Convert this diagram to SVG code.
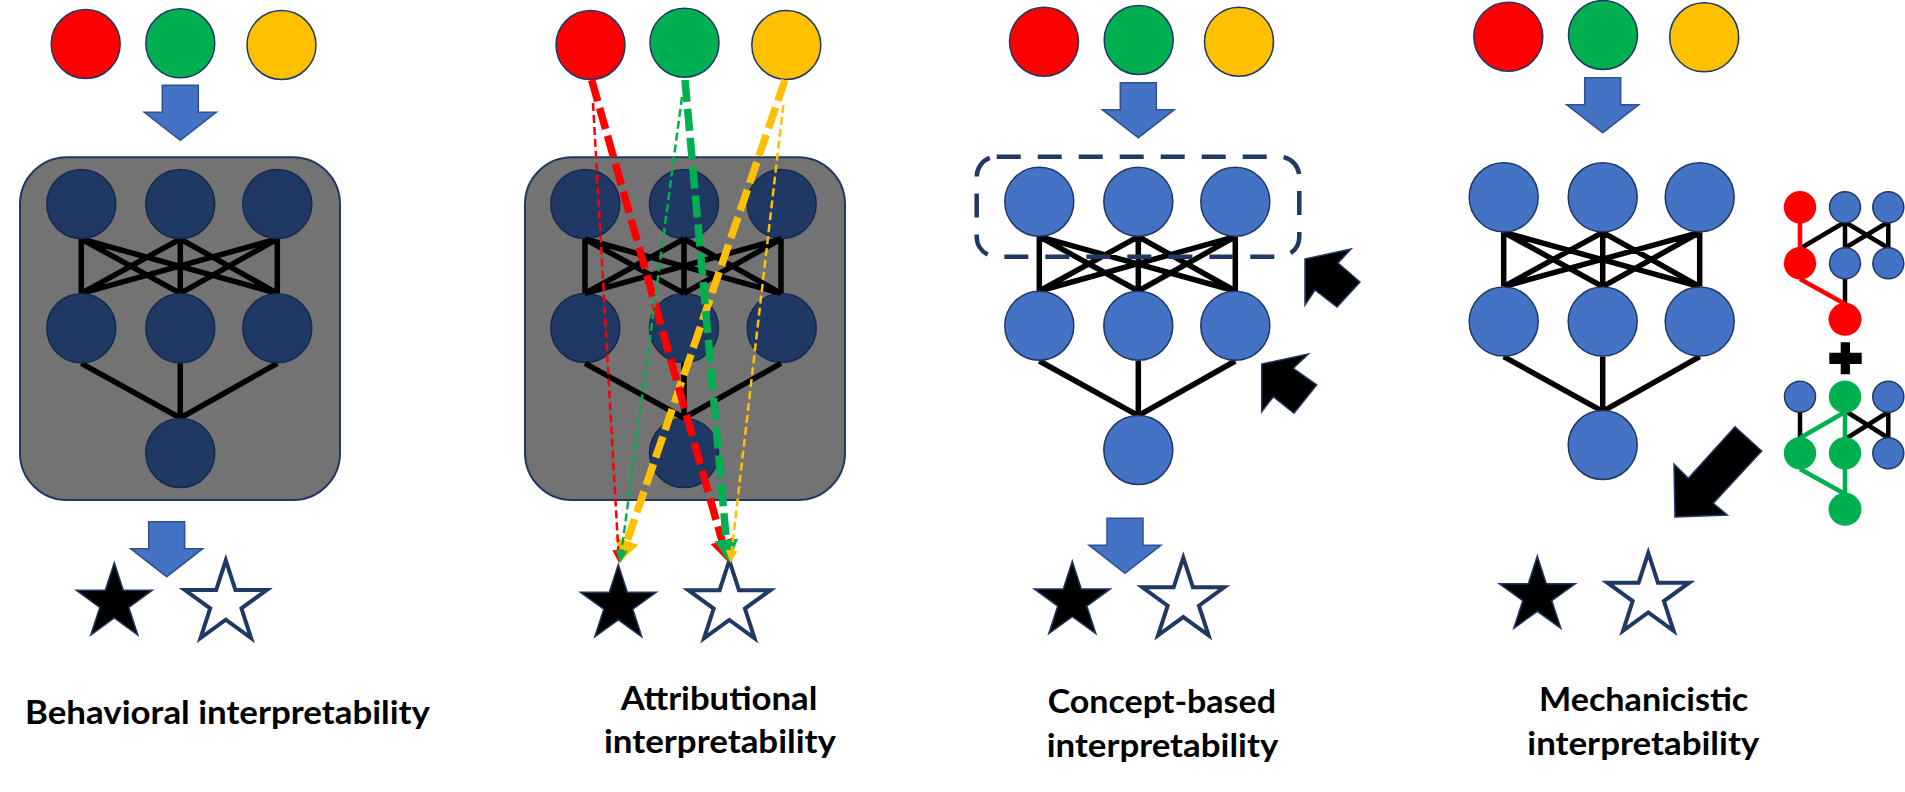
<svg xmlns="http://www.w3.org/2000/svg" xmlns:xlink="http://www.w3.org/1999/xlink" width="1905" height="792" viewBox="0 0 1905 792">
<style>
.in{stroke:#1F3864;stroke-width:1.5}
.red{fill:#FF0000}.grn{fill:#00B050}.yel{fill:#FFC000}
.dk{fill:#1F3864;stroke:#172a4e;stroke-width:1.5}
.lb{fill:#4472C4;stroke:#1F3864;stroke-width:1.5}
.sb{fill:#4472C4;stroke:#1F3864;stroke-width:1.5}
.edge{stroke:#000;stroke-width:5.5;fill:none}
.me{stroke:#000;stroke-width:4.5;fill:none}
.mr{stroke:#FF0000;stroke-width:4.5;fill:none}
.mg{stroke:#00B050;stroke-width:4.5;fill:none}
.box{fill:#737373;stroke:#1F3864;stroke-width:2}
.barrow{fill:#4472C4;stroke:#2F528F;stroke-width:1.5}
.karrow{fill:#000;stroke:#1F3864;stroke-width:1.5;stroke-linejoin:miter}
.bstar{fill:#000;stroke:#1F3864;stroke-width:1.5}
.wstar{fill:#fff;stroke:#1F3864;stroke-width:4}
.thick{fill:none;stroke-width:7.5;stroke-dasharray:22 7}
.thin{fill:none;stroke-width:2.5;stroke-dasharray:8 4}
.lbl{font-family:Lato,'Open Sans','Liberation Sans',sans-serif;font-weight:700;font-size:32.5px;fill:#000}
</style>
<defs>
<path id="downArrow" d="M-18,0H18V27H36L0,55L-36,27H-18Z"/>
<polygon id="starB" points="0,-40 8.98,-12.36 38.04,-12.36 14.53,4.72 23.51,32.36 0,15.28 -23.51,32.36 -14.53,4.72 -38.04,-12.36 -8.98,-12.36"/>
<polygon id="starW" points="0,-43 9.65,-13.29 40.9,-13.29 15.62,5.07 25.28,34.79 0,16.43 -25.28,34.79 -15.62,5.07 -40.9,-13.29 -9.65,-13.29"/>
<path id="netEdges" d="M-99,35L-99,89.3M-99,35L0,89.3M-99,35L97,89.3M0,35L-99,89.3M0,35L0,89.3M0,35L97,89.3M97,35L-99,89.3M97,35L0,89.3M97,35L97,89.3M-99,159.3L0,214M0,159.3L0,214M97,159.3L0,214"/>
<marker id="hRedT" viewBox="0 0 22 24" refX="0" refY="12" markerWidth="22" markerHeight="24" markerUnits="userSpaceOnUse" orient="auto"><path d="M0,0L22,12L0,24Z" fill="#FF0000"/></marker>
<marker id="hGrnT" viewBox="0 0 22 24" refX="0" refY="12" markerWidth="22" markerHeight="24" markerUnits="userSpaceOnUse" orient="auto"><path d="M0,0L22,12L0,24Z" fill="#00B050"/></marker>
<marker id="hYelT" viewBox="0 0 22 24" refX="0" refY="12" markerWidth="22" markerHeight="24" markerUnits="userSpaceOnUse" orient="auto"><path d="M0,0L22,12L0,24Z" fill="#FFC000"/></marker>
<marker id="hRed" viewBox="0 0 13 12" refX="0" refY="6" markerWidth="13" markerHeight="12" markerUnits="userSpaceOnUse" orient="auto"><path d="M0,0L13,6L0,12Z" fill="#FF0000"/></marker>
<marker id="hGrn" viewBox="0 0 13 12" refX="0" refY="6" markerWidth="13" markerHeight="12" markerUnits="userSpaceOnUse" orient="auto"><path d="M0,0L13,6L0,12Z" fill="#00B050"/></marker>
<marker id="hYel" viewBox="0 0 13 12" refX="0" refY="6" markerWidth="13" markerHeight="12" markerUnits="userSpaceOnUse" orient="auto"><path d="M0,0L13,6L0,12Z" fill="#FFC000"/></marker>
</defs>
<rect width="1905" height="792" fill="#fff"/>

<!-- Panel 1: Behavioral -->
<g id="p1-inputs">
<circle class="red in" cx="85.7" cy="44" r="34.5"/>
<circle class="grn in" cx="180.3" cy="43.3" r="34.5"/>
<circle class="yel in" cx="281.5" cy="45" r="34.5"/>
</g>
<g id="p1-arrow-in"><use href="#downArrow" class="barrow" transform="translate(180.3,85.3)"/></g>
<g id="p1-model">
<rect class="box" x="20" y="157.3" width="320" height="342.7" rx="47"/>
<use href="#netEdges" class="edge" transform="translate(180.3,204)"/>
<circle class="dk" cx="81.3" cy="204" r="34.5"/><circle class="dk" cx="180.3" cy="204" r="34.5"/><circle class="dk" cx="277.3" cy="204" r="34.5"/>
<circle class="dk" cx="81.3" cy="328.3" r="34.5"/><circle class="dk" cx="180.3" cy="328.3" r="34.5"/><circle class="dk" cx="277.3" cy="328.3" r="34.5"/>
<circle class="dk" cx="180.3" cy="453" r="34.5"/>
</g>
<g id="p1-arrow-out"><use href="#downArrow" class="barrow" transform="translate(166.7,521.7)"/></g>
<g id="p1-outputs">
<use href="#starB" class="bstar" transform="translate(114.3,602.7)"/>
<use href="#starW" class="wstar" transform="translate(225.8,603.3)"/>
</g>
<g id="p1-label"><text class="lbl" x="25" y="724" textLength="405" lengthAdjust="spacingAndGlyphs">Behavioral interpretability</text></g>

<!-- Panel 2: Attributional -->
<g id="p2-inputs">
<circle class="red in" cx="590.5" cy="45" r="34.5"/>
<circle class="grn in" cx="684.5" cy="42.7" r="34.5"/>
<circle class="yel in" cx="786.3" cy="45" r="34.5"/>
</g>
<g id="p2-model">
<rect class="box" x="525" y="157.3" width="320" height="342.7" rx="47"/>
<circle class="dk" cx="585.3" cy="204" r="34.5"/><circle class="dk" cx="684" cy="204" r="34.5"/><circle class="dk" cx="781.7" cy="204" r="34.5"/>
<circle class="dk" cx="585.3" cy="328" r="34.5"/><circle class="dk" cx="684" cy="328" r="34.5"/><circle class="dk" cx="781.7" cy="328" r="34.5"/>
<circle class="dk" cx="684" cy="453" r="34.5"/>
<use href="#netEdges" class="edge" transform="translate(684,204)"/>
</g>
<g id="p2-outputs">
<use href="#starB" class="bstar" transform="translate(618.3,604.5)"/>
<use href="#starW" class="wstar" transform="translate(729.3,603.5)"/>
</g>
<g id="p2-attributions">
<path class="thick" stroke="#FFC000" d="M785,80L627.1,540.9" marker-end="url(#hYelT)"/>
<path class="thick" stroke="#FF0000" d="M591.7,80L722,540.8" marker-end="url(#hRedT)"/>
<path class="thick" stroke="#00B050" d="M685,80L726.3,539.8" marker-end="url(#hGrnT)"/>
<path class="thin" stroke="#FF0000" d="M593,103L618.3,550" marker-end="url(#hRed)"/>
<path class="thin" stroke="#00B050" d="M682,97L621.7,550.1" marker-end="url(#hGrn)"/>
<path class="thin" stroke="#FFC000" d="M783.3,105L731.8,550.1" marker-end="url(#hYel)"/>
</g>
<g id="p2-label">
<text class="lbl" x="620.7" y="710" textLength="196.6" lengthAdjust="spacingAndGlyphs">Attributional</text>
<text class="lbl" x="604" y="752.7" textLength="232" lengthAdjust="spacingAndGlyphs">interpretability</text>
</g>

<!-- Panel 3: Concept-based -->
<g id="p3-inputs">
<circle class="red in" cx="1044" cy="41.7" r="34.5"/>
<circle class="grn in" cx="1138.7" cy="40" r="34.5"/>
<circle class="yel in" cx="1239" cy="41.7" r="34.5"/>
</g>
<g id="p3-arrow-in"><use href="#downArrow" class="barrow" transform="translate(1138.3,82.7)"/></g>
<g id="p3-model">
<use href="#netEdges" class="edge" transform="translate(1138.3,201.7)"/>
<circle class="lb" cx="1039.3" cy="201.7" r="34.5"/><circle class="lb" cx="1138.3" cy="201.7" r="34.5"/><circle class="lb" cx="1235.3" cy="201.7" r="34.5"/>
<circle class="lb" cx="1039.3" cy="325.7" r="34.5"/><circle class="lb" cx="1138.3" cy="325.7" r="34.5"/><circle class="lb" cx="1235.3" cy="325.7" r="34.5"/>
<circle class="lb" cx="1138.3" cy="450" r="34.5"/>
</g>
<g id="p3-concept-box"><rect x="976.7" y="156.7" width="322.6" height="100" rx="20" fill="none" stroke="#1F3864" stroke-width="4.5" stroke-dasharray="24 17"/></g>
<g id="p3-pointers">
<polygon class="karrow" points="1305,259 1351,249 1338,263 1360,282 1337,307 1315,290 1305,305"/>
<polygon class="karrow" points="1261.7,364 1308.3,354 1293.3,368.3 1316.7,385 1294,413.3 1273.3,396.7 1261.7,411.7"/>
</g>
<g id="p3-arrow-out"><use href="#downArrow" class="barrow" transform="translate(1125,518.3)"/></g>
<g id="p3-outputs">
<use href="#starB" class="bstar" transform="translate(1072.3,601.3)"/>
<use href="#starW" class="wstar" transform="translate(1183.3,600.6)"/>
</g>
<g id="p3-label">
<text class="lbl" x="1047.7" y="713" textLength="228.3" lengthAdjust="spacingAndGlyphs">Concept-based</text>
<text class="lbl" x="1046.7" y="757" textLength="231.6" lengthAdjust="spacingAndGlyphs">interpretability</text>
</g>

<!-- Panel 4: Mechanistic -->
<g id="p4-inputs">
<circle class="red in" cx="1508.3" cy="36.7" r="34.5"/>
<circle class="grn in" cx="1603" cy="35" r="34.5"/>
<circle class="yel in" cx="1704.2" cy="37.3" r="34.5"/>
</g>
<g id="p4-arrow-in"><use href="#downArrow" class="barrow" transform="translate(1602.7,77.7)"/></g>
<g id="p4-model">
<use href="#netEdges" class="edge" transform="translate(1602.7,197.3)"/>
<circle class="lb" cx="1503.7" cy="197.3" r="34.5"/><circle class="lb" cx="1602.7" cy="197.3" r="34.5"/><circle class="lb" cx="1699.7" cy="197.3" r="34.5"/>
<circle class="lb" cx="1503.7" cy="321.6" r="34.5"/><circle class="lb" cx="1602.7" cy="321.6" r="34.5"/><circle class="lb" cx="1699.7" cy="321.6" r="34.5"/>
<circle class="lb" cx="1602.7" cy="445" r="34.5"/>
</g>
<g id="p4-circuit-red">
<path class="me" d="M1801,248L1845,222M1845,222L1845,248M1845,222L1888.3,248M1888.3,222L1845,248M1888.3,222L1888.3,248M1845,279L1845,304"/>
<path class="mr" d="M1800,222L1800,248M1800,279L1845,304"/>
<circle class="red" cx="1800" cy="207.3" r="16.2"/>
<circle class="sb" cx="1845" cy="207.3" r="15.5"/>
<circle class="sb" cx="1888.3" cy="207.3" r="15.5"/>
<circle class="red" cx="1800" cy="263.3" r="16.2"/>
<circle class="sb" cx="1845" cy="263.3" r="15.5"/>
<circle class="sb" cx="1888.3" cy="263.3" r="15.5"/>
<circle class="red" cx="1845" cy="319.3" r="16.5"/>
</g>
<g id="p4-plus"><path d="M1829.3,352.7H1840.7V342.3H1850V352.7H1861.7V364H1850V374.3H1840.7V364H1829.3Z" fill="#000"/></g>
<g id="p4-circuit-green">
<path class="me" d="M1800,412L1800,438M1847,412L1888.3,438M1888.3,412L1847,438M1888.3,412L1888.3,438"/>
<path class="mg" d="M1845,412L1800,438M1845,412L1845,438M1800,469L1845,494M1845,469L1845,494"/>
<circle class="sb" cx="1800" cy="396.7" r="15.5"/>
<circle class="grn" cx="1845" cy="396.7" r="16.2"/>
<circle class="sb" cx="1888.3" cy="396.7" r="15.5"/>
<circle class="grn" cx="1800" cy="453.3" r="16.2"/>
<circle class="grn" cx="1845" cy="453.3" r="16.2"/>
<circle class="sb" cx="1888.3" cy="453.3" r="15.5"/>
<circle class="grn" cx="1845" cy="509.3" r="16.5"/>
</g>
<g id="p4-pointer"><polygon class="karrow" points="1675,517 1674,464 1688.3,478.3 1735,426.7 1761.7,451 1713.3,503.3 1727.3,515"/></g>
<g id="p4-outputs">
<use href="#starB" class="bstar" transform="translate(1537.3,596)"/>
<use href="#starW" class="wstar" transform="translate(1648.3,596)"/>
</g>
<g id="p4-label">
<text class="lbl" x="1539" y="711" textLength="209.3" lengthAdjust="spacingAndGlyphs">Mechanicistic</text>
<text class="lbl" x="1527.3" y="755" textLength="232" lengthAdjust="spacingAndGlyphs">interpretability</text>
</g>
</svg>
